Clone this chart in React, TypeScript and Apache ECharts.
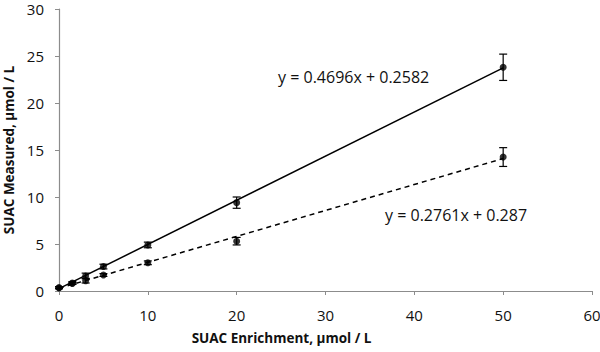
import React, { useEffect, useRef } from "react";
import * as echarts from "echarts";

const enrichment = [0, 1.5, 3, 5, 10, 20, 50];
const measuredA = [0.35, 0.85, 1.6, 2.6, 4.9, 9.4, 23.8];
const errorA = [0.1, 0.15, 0.3, 0.25, 0.3, 0.6, 1.4];
const measuredB = [0.35, 0.8, 1.1, 1.7, 3.0, 5.3, 14.25];
const errorB = [0.1, 0.1, 0.25, 0.15, 0.2, 0.4, 1.0];
const slopeA = 0.4696;
const interceptA = 0.2582;
const slopeB = 0.2761;
const interceptB = 0.287;
const fitRange = [0, 50];
const xTicks = [0, 10, 20, 30, 40, 50, 60];
const yTicks = [0, 5, 10, 15, 20, 25, 30];
const eqA = "y = 0.4696x + 0.2582";
const eqB = "y = 0.2761x + 0.287";

const FONT = "'Open Sans', 'Liberation Sans', sans-serif";

function errorSeries(values: number[], errs: number[]) {
  return {
    type: "custom",
    z: 5,
    data: enrichment.map((x, i) => [x, values[i] - errs[i], values[i] + errs[i]]),
    renderItem: (params: any, api: any) => {
      const x = api.value(0);
      const lo = api.coord([x, api.value(1)]);
      const hi = api.coord([x, api.value(2)]);
      const w = 4;
      const style = { stroke: "#000", lineWidth: 1.2 };
      return {
        type: "group",
        children: [
          { type: "line", shape: { x1: lo[0], y1: lo[1], x2: hi[0], y2: hi[1] }, style },
          { type: "line", shape: { x1: lo[0] - w, y1: lo[1], x2: lo[0] + w, y2: lo[1] }, style },
          { type: "line", shape: { x1: hi[0] - w, y1: hi[1], x2: hi[0] + w, y2: hi[1] }, style },
        ],
      };
    },
  };
}

export default function App() {
  const ref = useRef<HTMLDivElement>(null);
  useEffect(() => {
    if (!ref.current) return;
    const chart = echarts.init(ref.current, null, { renderer: "svg" });
    chart.setOption({
      animation: false,
      backgroundColor: "#fff",
      grid: { left: 59, right: 8, top: 9, bottom: 61, containLabel: false, outerBoundsMode: "none" },
      xAxis: {
        type: "value",
        min: 0,
        max: 60,
        interval: 10,
        name: "SUAC Enrichment, µmol / L",
        nameLocation: "middle",
        nameGap: 40,
        nameTextStyle: { fontFamily: FONT, fontSize: 13.5, fontWeight: "bold", color: "#111", padding: [0, 88, 0, 0] },
        axisLine: { lineStyle: { color: "#8c8c8c", width: 1.2 } },
        axisTick: { show: true, length: 4, lineStyle: { color: "#8c8c8c" } },
        axisLabel: { fontFamily: FONT, fontSize: 15, color: "#111", margin: 16, formatter: (v: number) => (xTicks.includes(v) ? String(v) : "") },
        splitLine: { show: false },
      },
      yAxis: {
        type: "value",
        min: 0,
        max: 30,
        interval: 5,
        name: "SUAC Measured, µmol / L",
        nameLocation: "middle",
        nameGap: 42,
        nameTextStyle: { fontFamily: FONT, fontSize: 13.5, fontWeight: "bold", color: "#111" },
        axisLine: { show: true, lineStyle: { color: "#8c8c8c", width: 1.2 } },
        axisTick: { show: true, length: 4, lineStyle: { color: "#8c8c8c" } },
        axisLabel: { fontFamily: FONT, fontSize: 15, color: "#111", margin: 15, formatter: (v: number) => (yTicks.includes(v) ? String(v) : "") },
        splitLine: { show: false },
      },
      series: [
        {
          type: "line",
          data: fitRange.map((x) => [x, slopeA * x + interceptA]),
          symbol: "none",
          lineStyle: { color: "#000", width: 1.5 },
          z: 3,
        },
        {
          type: "line",
          data: fitRange.map((x) => [x, slopeB * x + interceptB]),
          symbol: "none",
          lineStyle: { color: "#000", width: 1.5, type: [5, 4] },
          z: 3,
        },
        errorSeries(measuredA, errorA),
        errorSeries(measuredB, errorB),
        {
          type: "scatter",
          data: enrichment.map((x, i) => [x, measuredA[i]]),
          symbol: "circle",
          symbolSize: 7,
          itemStyle: { color: "#000" },
          z: 6,
        },
        {
          type: "scatter",
          data: enrichment.map((x, i) => [x, measuredB[i]]),
          symbol: "circle",
          symbolSize: 7,
          itemStyle: { color: "#000" },
          z: 6,
        },
      ],
      graphic: [
        { type: "text", left: 278, top: 69, style: { text: eqA, fontFamily: FONT, fontSize: 16, fill: "#111" } },
        { type: "text", left: 385, top: 207, style: { text: eqB, fontFamily: FONT, fontSize: 16, fill: "#111" } },
      ],
    });
    return () => chart.dispose();
  }, []);
  return <div ref={ref} style={{ width: 600, height: 352, position: "absolute", left: 0, top: 0 }} />;
}
